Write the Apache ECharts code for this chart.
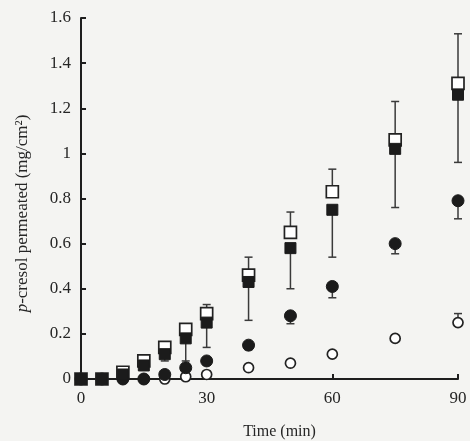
<!DOCTYPE html>
<html>
<head>
<meta charset="utf-8">
<script src="https://cdn.jsdelivr.net/npm/echarts@6/dist/echarts.min.js"></script>
<style>
  html, body { margin: 0; padding: 0; background: #f4f4f2; }
  #main { width: 470px; height: 441px; }
</style>
</head>
<body>
<div id="main"></div>
<script>
// time points (min)
var times = [0, 5, 10, 15, 20, 25, 30, 40, 50, 60, 75, 90];

// p-cresol permeated (mg/cm2), one array per formulation
var openSquare   = [0, 0, 0.03, 0.08, 0.14, 0.22, 0.29, 0.46, 0.65, 0.83, 1.06, 1.31];
var filledSquare = [0, 0, 0.02, 0.06, 0.11, 0.18, 0.25, 0.43, 0.58, 0.75, 1.02, 1.26];
var filledCircle = [0, 0, 0, 0, 0.02, 0.05, 0.08, 0.15, 0.28, 0.41, 0.60, 0.79];
var openCircle   = [0, 0, 0, 0, 0, 0.01, 0.02, 0.05, 0.07, 0.11, 0.18, 0.25];

// error bars: open markers drawn upwards, filled markers downwards
var openSquareErr   = [0, 0, 0, 0, 0.02, 0.01, 0.04, 0.08, 0.09, 0.10, 0.17, 0.22];
var filledSquareErr = [0, 0, 0, 0, 0.03, 0.10, 0.11, 0.17, 0.18, 0.21, 0.26, 0.30];
var filledCircleErr = [0, 0, 0, 0, 0, 0, 0, 0.02, 0.035, 0.05, 0.045, 0.08];
var openCircleErr   = [0, 0, 0, 0, 0, 0, 0, 0, 0, 0, 0, 0.04];

var yTicks = [0, 0.2, 0.4, 0.6, 0.8, 1, 1.2, 1.4, 1.6];

var serif = '"Liberation Serif", "DejaVu Serif", serif';
var ink = '#262626';

function pairs(vals, errs) {
  return times.map(function (t, i) { return [t, vals[i], errs ? errs[i] : 0]; });
}

function errorBars(vals, errs, dir) {
  return {
    type: 'custom',
    z: 1,
    silent: true,
    renderItem: function (params, api) {
      var e = api.value(2);
      if (!e) return;
      var x = api.value(0), y = api.value(1);
      var p0 = api.coord([x, y]);
      var p1 = api.coord([x, y + dir * e]);
      var st = { stroke: '#3a3a3a', lineWidth: 1.5 };
      return {
        type: 'group',
        children: [
          { type: 'line', shape: { x1: p0[0], y1: p0[1], x2: p1[0], y2: p1[1] }, style: st },
          { type: 'line', shape: { x1: p1[0] - 4, y1: p1[1], x2: p1[0] + 4, y2: p1[1] }, style: st }
        ]
      };
    },
    data: pairs(vals, errs)
  };
}

function markers(vals, symbol, size, filled, z) {
  return {
    type: 'scatter',
    z: z,
    symbol: symbol,
    symbolSize: size,
    itemStyle: filled
      ? { color: '#1b1b1b', borderColor: '#1b1b1b', borderWidth: 1, opacity: 1 }
      : { color: '#ffffff', borderColor: '#222', borderWidth: 1.7, opacity: 1 },
    data: pairs(vals)
  };
}

var chart = echarts.init(document.getElementById('main'));

var option = {
  backgroundColor: '#f4f4f2',
  animation: false,
  grid: { left: 81, right: 12, top: 18, bottom: 62, outerBoundsMode: 'none', containLabel: false },
  xAxis: {
    type: 'value',
    min: 0,
    max: 90,
    interval: 30,
    name: 'Time (min)',
    nameLocation: 'middle',
    nameGap: 45,
    nameTextStyle: { fontFamily: serif, fontSize: 16, color: ink, padding: [0, 0, 0, 20] },
    axisLine: { show: true, lineStyle: { color: '#1e1e1e', width: 2 } },
    axisTick: { show: true, inside: true, length: 5, lineStyle: { color: '#1e1e1e', width: 2 } },
    axisLabel: { fontFamily: serif, fontSize: 17, color: ink, margin: 11 },
    splitLine: { show: false }
  },
  yAxis: {
    type: 'value',
    min: yTicks[0],
    max: yTicks[yTicks.length - 1],
    interval: 0.2,
    name: '{i|p}-cresol permeated (mg/cm²)',
    nameLocation: 'middle',
    nameGap: 50,
    nameTextStyle: {
      fontFamily: serif, fontSize: 17, color: ink, padding: [0, 30, 0, 0],
      rich: { i: { fontFamily: serif, fontSize: 17, fontStyle: 'italic', color: ink } }
    },
    axisLine: { show: true, lineStyle: { color: '#1e1e1e', width: 2 } },
    axisTick: { show: true, inside: true, length: 5, lineStyle: { color: '#1e1e1e', width: 2 } },
    axisLabel: { fontFamily: serif, fontSize: 17, color: ink, margin: 10 },
    splitLine: { show: false }
  },
  series: [
    errorBars(openSquare, openSquareErr, 1),
    errorBars(filledSquare, filledSquareErr, -1),
    errorBars(filledCircle, filledCircleErr, -1),
    errorBars(openCircle, openCircleErr, 1),
    markers(openCircle, 'circle', 10, false, 3),
    markers(filledCircle, 'circle', 12, true, 4),
    markers(openSquare, 'rect', 12, false, 5),
    markers(filledSquare, 'rect', 11, true, 6)
  ]
};

chart.setOption(option);
</script>
</body>
</html>
